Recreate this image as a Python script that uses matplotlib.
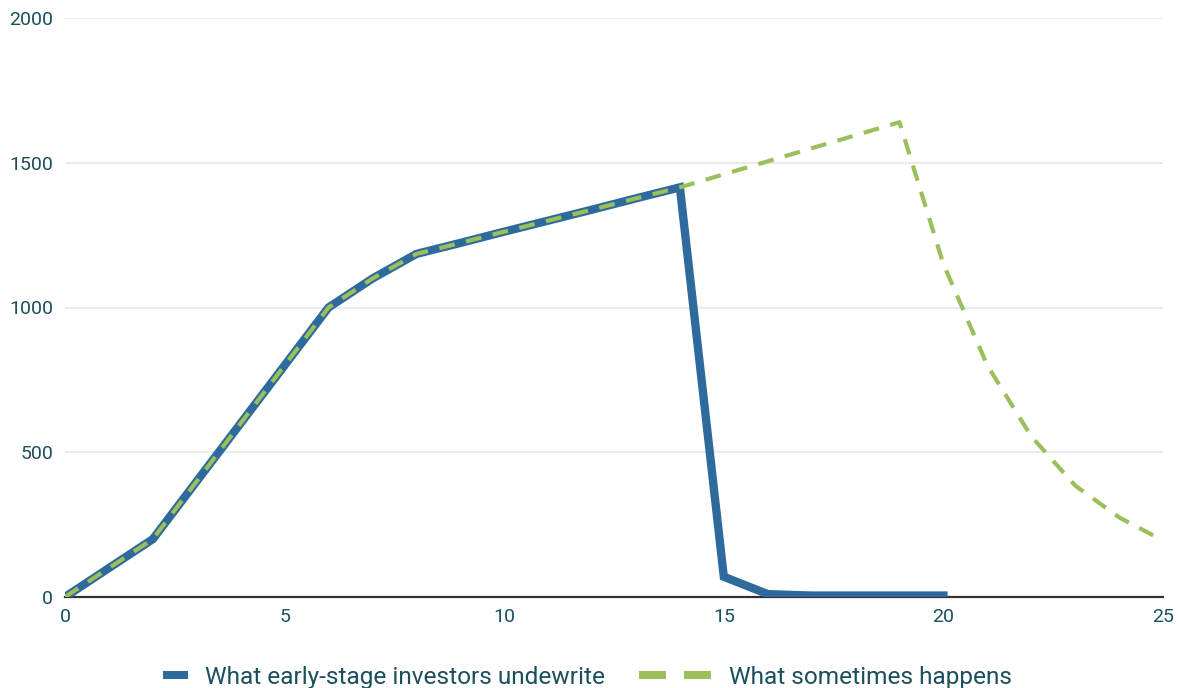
import matplotlib.pyplot as plt
from matplotlib.lines import Line2D

plt.rcParams['font.family'] = ['Roboto', 'DejaVu Sans']

# data
years_expected = [0, 1, 2, 3, 4, 5, 6, 7, 8, 9, 10, 11, 12, 13, 14, 15, 16, 17, 18, 19, 20]
value_expected = [0, 100, 200, 400, 600, 800, 1000, 1100, 1185, 1223, 1262, 1300, 1338, 1377, 1415,
                  70, 10, 5, 5, 5, 5]

years_actual = list(range(0, 26))
value_actual = [0, 100, 200, 400, 600, 800, 1000, 1100, 1185, 1223, 1262, 1300, 1338, 1377, 1415,
                1460, 1505, 1550, 1595, 1640, 1150, 800, 555, 385, 275, 195]

labels = ["What early-stage investors undewrite", "What sometimes happens"]
blue = "#2e6a9c"
green = "#9bbf5a"
text_col = "#1b4f5e"

W, H = 1178, 688
fig = plt.figure(figsize=(W / 100, H / 100), dpi=100)
ax = fig.add_axes([65 / W, 1 - 597 / H, 1098 / W, 579 / H])

ax.plot(years_expected, value_expected, color=blue, lw=6, solid_joinstyle="miter", zorder=3)
ax.plot(years_actual, value_actual, color=green, lw=3.0, dashes=(3.8, 2.8), zorder=4)

ax.set_xlim(0, 25)
ax.set_ylim(0, 2000)
ax.set_xticks([0, 5, 10, 15, 20, 25])
ax.set_yticks([0, 500, 1000, 1500, 2000])
ax.tick_params(length=0, labelsize=14, labelcolor=text_col)
ax.tick_params(axis="x", pad=8)
ax.tick_params(axis="y", pad=8.5)

ax.grid(axis="y", color="#ebebeb", lw=1.5)
ax.set_axisbelow(True)
for s in ["top", "right", "left"]:
    ax.spines[s].set_visible(False)
ax.spines["bottom"].set_color("#333333")
ax.spines["bottom"].set_linewidth(1.6)
ax.spines["bottom"].set_zorder(2)

# legend drawn by hand: the two keys have different lengths in the original
ly = 1 - 675 / H
fig.add_artist(Line2D([163 / W, 188 / W], [ly, ly], color=blue, lw=5.8, solid_capstyle="butt"))
fig.text(205 / W, ly, labels[0], fontsize=17.6, color=text_col, va="center_baseline")
for x0, x1 in [(639, 666), (684, 711)]:
    fig.add_artist(Line2D([x0 / W, x1 / W], [ly, ly], color=green, lw=5.8, solid_capstyle="butt"))
fig.text(729 / W, ly, labels[1], fontsize=17.6, color=text_col, va="center_baseline")

fig.savefig("out.png", dpi=100)
